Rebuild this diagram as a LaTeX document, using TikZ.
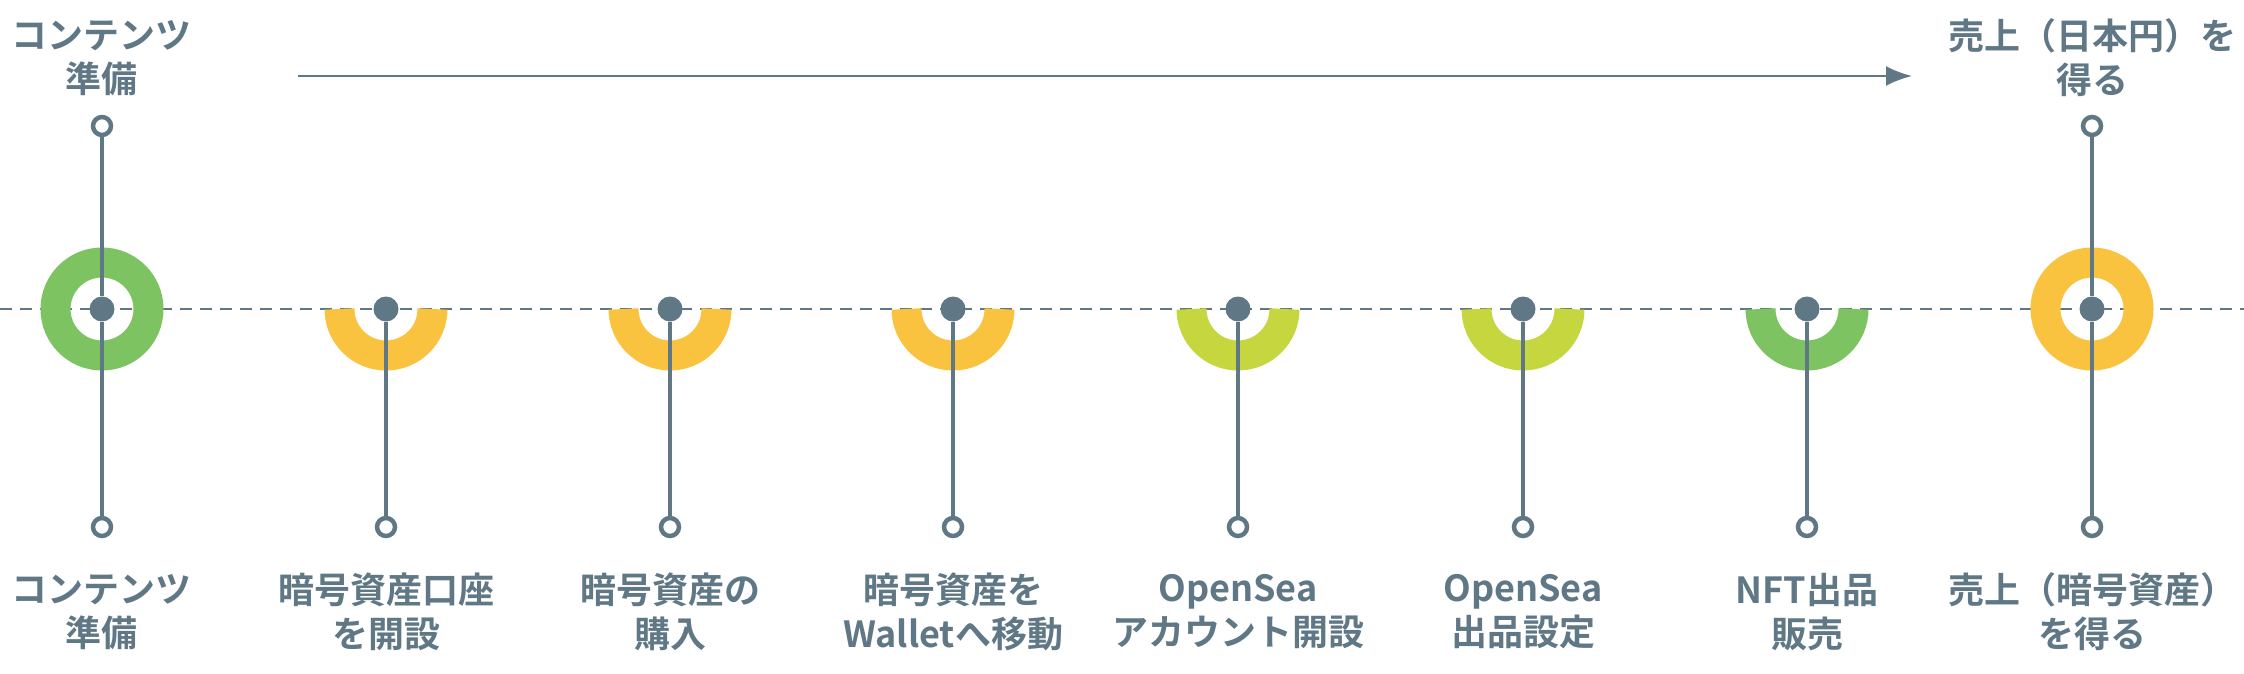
\documentclass[tikz,border=0pt]{standalone}
\usepackage{fontspec}
\newfontfamily\jpfont{Noto Sans CJK JP Bold}
\usetikzlibrary{arrows.meta, positioning}
\definecolor{slate}{HTML}{607886}
\definecolor{leaf}{HTML}{7DC362}
\definecolor{amber}{HTML}{F9C33F}
\definecolor{lime}{HTML}{C5D63F}
\tikzset{
    stem/.style={draw=slate, line width=4.5pt},
    pin/.style={circle, draw=slate, fill=white, line width=4.5pt, minimum size=18pt, inner sep=0pt},
    hub/.style={circle, fill=slate, minimum size=25pt, inner sep=0pt},
    caption/.style={align=center, text=slate, font=\jpfont\fontsize{36pt}{44pt}\selectfont}
}

\begin{document}
\begin{tikzpicture}[x=1pt, y=-1pt]
    \useasboundingbox (0,0) rectangle (2244,674);

    % timeline
    \draw[slate, line width=2.5pt, dash pattern=on 12pt off 8pt] (0,309) -- (2244,309);

    % full rings at both ends
    \draw[leaf, line width=30pt] (102,309) circle (46.5);
    \draw[amber, line width=30pt] (2092,309) circle (46.5);

    % half rings
    \foreach \x/\c in {386/amber, 670/amber, 953/amber, 1238/lime, 1523/lime, 1807/leaf}
        \draw[\c, line width=30pt] (\x+46.5,309) arc[start angle=0, end angle=180, radius=46.5];

    % stems
    \foreach \i/\x/\txt in {1/102/{コンテンツ\\準備}, 2/386/{暗号資産口座\\を開設}, 3/670/{暗号資産の\\購入},
            4/953/{暗号資産を\\Walletへ移動}, 5/1238/{OpenSea\\アカウント開設}, 6/1523/{OpenSea\\出品設定},
            7/1807/{NFT出品\\販売}, 8/2092/{売上（暗号資産）\\を得る}} {
        \node[hub] (hub\i) at (\x,309) {};
        \node[pin] (low\i) at (\x,527) {};
        \draw[stem] (hub\i) -- (low\i);
        \node[caption] (cap\i) at (\x,612) {\txt};
    }

    % top pins at both ends
    \node[pin] (high1) at (102,126) {};
    \node[pin] (high8) at (2092,126) {};
    \draw[stem] (high1) -- (hub1);
    \draw[stem] (high8) -- (hub8);
    \node[caption] (top1) at (102,58) {コンテンツ\\準備};
    \node[caption] (top8) at (2092,58) {売上（日本円）を\\得る};

    % direction
    \coordinate (from) at (298,76);
    \coordinate (to) at (1912,76);
    \draw[slate, line width=2.5pt, -{Latex[length=26pt, width=20pt]}] (from) -- (to);
\end{tikzpicture}
\end{document}
